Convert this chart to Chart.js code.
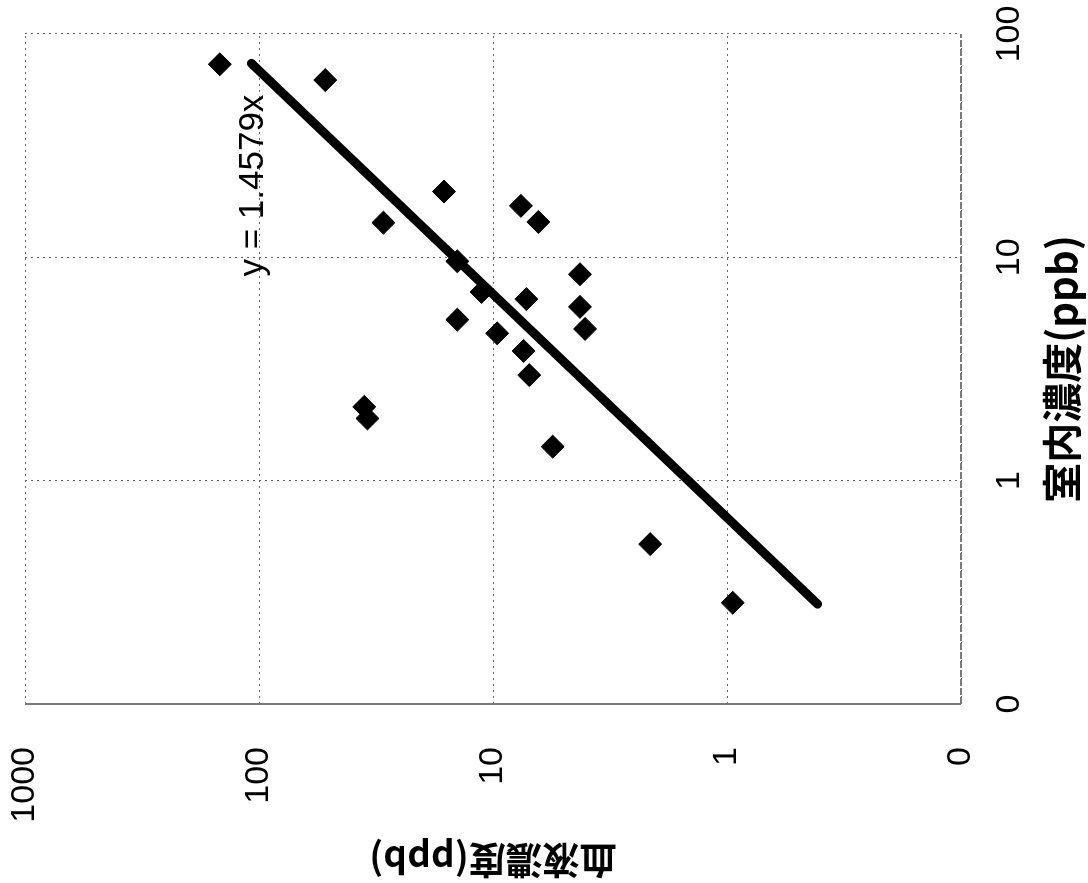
<!DOCTYPE html>
<html lang="ja">
<head>
<meta charset="UTF-8">
<title>室内濃度と血液濃度</title>
<style>
  html, body { margin: 0; padding: 0; background: #fff; overflow: hidden; }
  /* the figure is printed turned a quarter turn to the left */
  #turn {
    position: absolute; left: 0; top: 0;
    width: 883px; height: 1088px;
    transform-origin: 0 0;
    transform: translateY(883px) rotate(-90deg);
  }
</style>
</head>
<body>
<div id="turn">
  <canvas id="grafico" width="883" height="1088"></canvas>
</div>

<script src="https://cdn.jsdelivr.net/npm/chart.js"></script>
<script>
// 室内濃度 (x) と 血液濃度 (y), ppb
const indoor = [73.2, 62.2, 19.7, 14.3, 17.0, 14.4, 9.6, 8.4, 7.0, 6.5, 6.0,
                5.26, 4.57, 4.78, 3.81, 2.97, 2.14, 1.90, 1.42, 0.52, 0.284]
const blood  = [147, 52.1, 16.2, 29.4, 7.6, 6.4, 14.2, 4.25, 11.2, 7.2, 4.25,
                14.2, 9.6, 4.04, 7.4, 7.0, 35.5, 34.4, 5.56, 2.13, 0.945]

// 近似直線 y = 1.4579x
const trendX = [0.28, 73.9]
const trendY = [0.41, 107.7]
const trendText = 'y = 1.4579x'

const xTicks = [0.1, 1, 10, 100]
const xTickLabels = ['0', '1', '10', '100']
const yTicks = [0.1, 1, 10, 100, 1000]
const yTickLabels = ['0', '1', '10', '100', '1000']

const tickFont = { family: "'Liberation Sans', Arial, sans-serif", size: 34 }

Chart.defaults.color = '#000'

// no extra room for the end labels, the box is fixed
const noPad = s => { s.paddingTop = 0; s.paddingBottom = 0; s.paddingLeft = 0; s.paddingRight = 0 }

// axis lines + equation text
const extras = {
  id: 'extras',
  beforeDatasetsDraw(chart) {
    const { ctx, chartArea: a } = chart
    ctx.save()
    ctx.strokeStyle = '#7a7a7a'
    ctx.lineWidth = 2
    ctx.beginPath(); ctx.moveTo(a.left, a.top); ctx.lineTo(a.left, a.bottom); ctx.stroke()
    ctx.setLineDash([7, 2])
    ctx.beginPath(); ctx.moveTo(a.left, a.bottom); ctx.lineTo(a.right, a.bottom); ctx.stroke()
    ctx.restore()
  },
  afterDatasetsDraw(chart) {
    const { ctx, scales } = chart
    ctx.save()
    ctx.fillStyle = '#000'
    ctx.font = "35px 'Liberation Sans', Arial, sans-serif"
    ctx.textAlign = 'left'
    ctx.textBaseline = 'alphabetic'
    ctx.fillText(trendText, scales.x.getPixelForValue(8.2), scales.y.getPixelForValue(96))
    ctx.restore()
  }
}

const ctx = document.getElementById('grafico')

new Chart(ctx, {
  type: 'scatter',
  data: {
    datasets: [{
      label: '血液濃度',
      data: indoor.map((v, i) => ({ x: v, y: blood[i] })),
      pointStyle: 'rectRot',
      pointRadius: 11.5,
      backgroundColor: '#000',
      borderColor: '#000',
      borderWidth: 1
    }, {
      label: trendText,
      data: trendX.map((v, i) => ({ x: v, y: trendY[i] })),
      showLine: true,
      pointRadius: 0,
      borderColor: '#000',
      borderWidth: 9,
      borderCapStyle: 'round'
    }]
  },
  options: {
    responsive: false,
    animation: false,
    layout: { padding: { left: 0, top: 25, right: 34, bottom: 0 } },
    plugins: { legend: { display: false }, tooltip: { enabled: false } },
    scales: {
      x: {
        type: 'logarithmic',
        min: 0.1, max: 100,
        afterFit: s => { s.height = 127; noPad(s) },
        afterBuildTicks: s => { s.ticks = xTicks.map(v => ({ value: v })) },
        ticks: {
          font: tickFont, padding: 28, maxRotation: 0, autoSkip: false,
          callback: (v) => xTickLabels[xTicks.indexOf(v)]
        },
        grid: { color: '#666', lineWidth: 1, drawTicks: false },
        border: { display: false, dash: [2, 4] },
        title: {
          display: true, text: '室内濃度(ppb)',
          font: { family: "'Noto Sans CJK JP', sans-serif", size: 40, weight: 'bold', lineHeight: 1 },
          padding: { top: 0, bottom: 6 }
        }
      },
      y: {
        type: 'logarithmic',
        min: 0.1, max: 1000,
        afterFit: s => { s.width = 179; noPad(s) },
        afterBuildTicks: s => { s.ticks = yTicks.map(v => ({ value: v })) },
        ticks: {
          font: tickFont, padding: 43, autoSkip: false,
          callback: (v) => yTickLabels[yTicks.indexOf(v)]
        },
        grid: { color: '#666', lineWidth: 1, drawTicks: false },
        border: { display: false, dash: [2, 4] },
        title: {
          display: true, text: '血液濃度(ppb)',
          font: { family: "'Noto Sans CJK JP', sans-serif", size: 37, weight: 'bold', lineHeight: 1 },
          padding: { top: 4, bottom: 0 }
        }
      }
    }
  },
  plugins: [extras]
})
</script>
</body>
</html>
